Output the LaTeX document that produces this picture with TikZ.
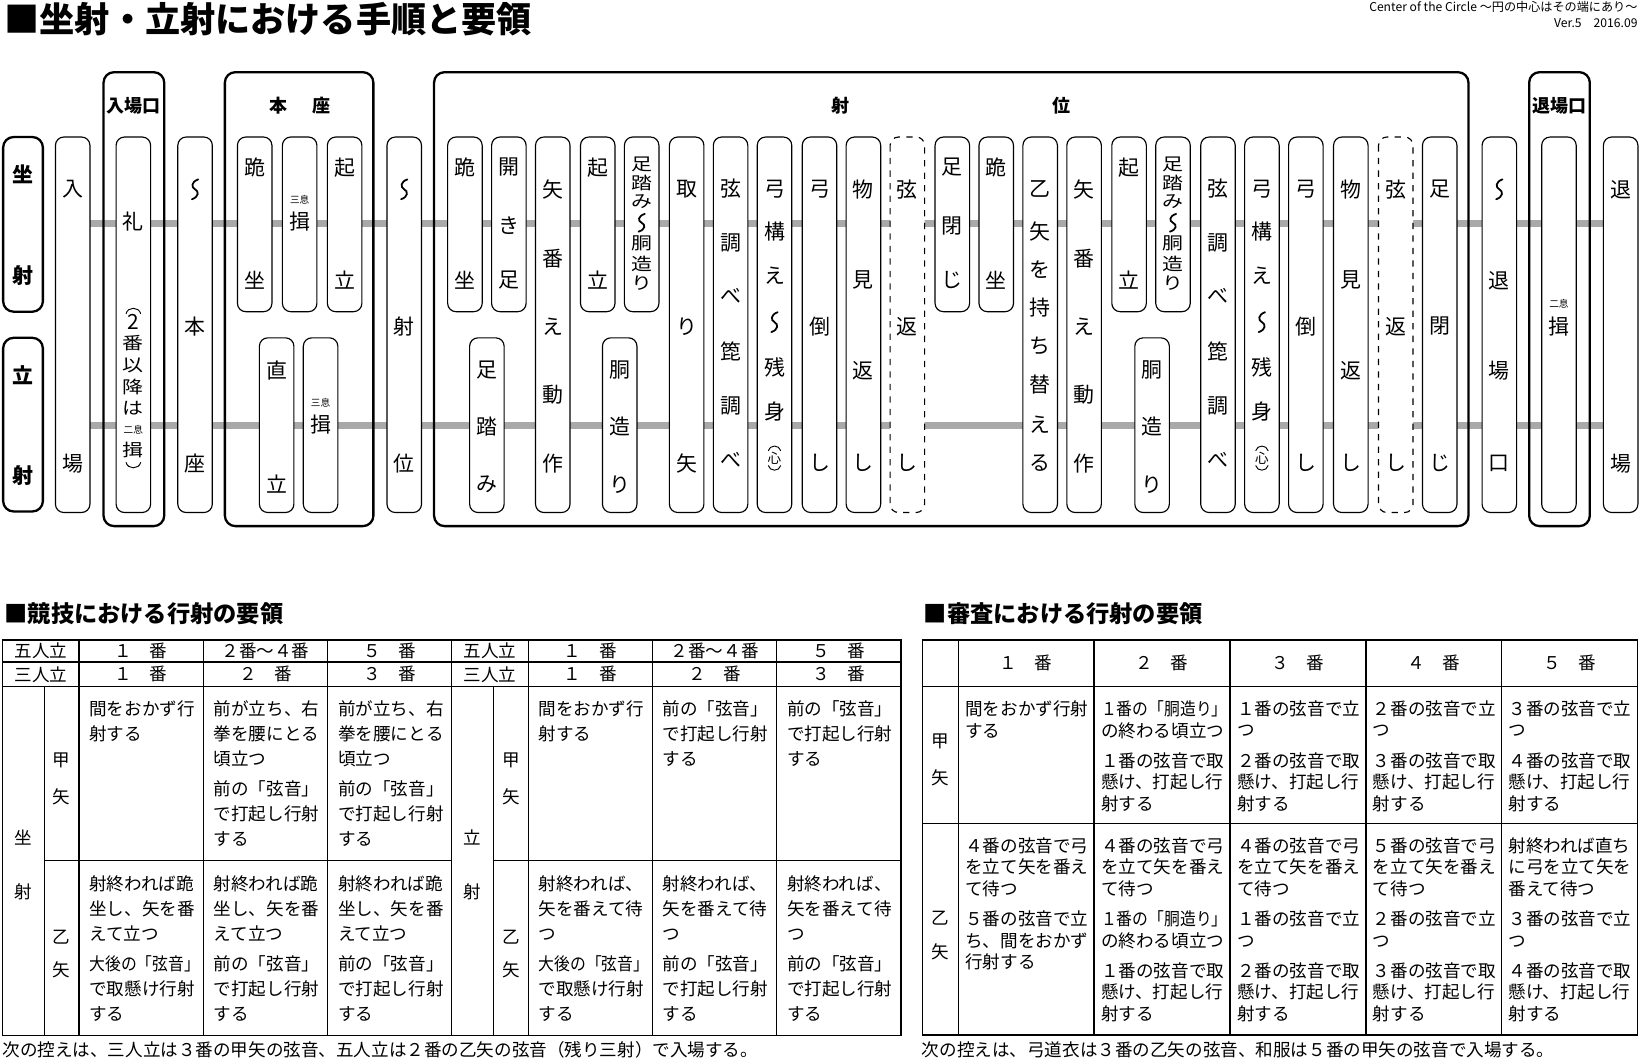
\documentclass[tikz,border=0pt]{standalone}
\usepackage{fontspec}
\setmainfont{Noto Sans CJK JP}
\usepackage{graphicx}
\definecolor{bandgray}{HTML}{A9A9A9}
\tikzset{
  colbox/.style={draw=black,line width=0.55pt,fill=white,rounded corners=4pt},
  grpbox/.style={draw=black,line width=1.1pt,rounded corners=5pt},
  lblbox/.style={draw=black,line width=1.1pt,rounded corners=5pt,fill=white},
  band/.style={draw=bandgray,line width=3.5pt},
  vch/.style={font=\fontsize{10}{10}\selectfont,inner sep=0pt},
  smallch/.style={font=\fontsize{4.6}{5}\selectfont,inner sep=0pt},
  grplbl/.style={font=\fontsize{8.6}{9}\selectfont\bfseries,inner sep=0pt},
  sidelbl/.style={font=\fontsize{10}{10}\selectfont\bfseries,inner sep=0pt},
  tbl/.style={draw=black,line width=0.6pt},
  tcellL/.style={font=\fontsize{8.4}{11.95}\selectfont,align=left,inner sep=0pt,anchor=north west},
  tcellR/.style={font=\fontsize{8.4}{10.35}\selectfont,align=left,inner sep=0pt,anchor=north west},
  thead/.style={font=\fontsize{8.4}{10}\selectfont,inner sep=0pt},
  paren/.style={line width=0.45pt},
  wavest/.style={line width=0.85pt,line cap=round},
  credit/.style={anchor=east,inner sep=0pt,font=\fontsize{5.8}{6}\selectfont},
}
\newcommand\wv[3]{\draw[wavest] (#1+3,#2-#3) .. controls (#1-3.8,#2-0.75*#3) and (#1-3.8,#2-0.2*#3) .. (#1,#2) .. controls (#1+3.8,#2+0.2*#3) and (#1+3.8,#2+0.75*#3) .. (#1-3,#2+#3);}
\newcommand\sqz[1]{\scalebox{1}[0.82]{#1}}
\newcommand\sq[1]{\scalebox{0.9}[1]{#1}}
\newcommand\vcol[4][]{\draw[colbox,#1] (#2,#3) rectangle (#2+33,#4);}
\newcommand\vtx[4][]{\foreach \yy/\ch [count=\k] in {#4} {\node[vch,#1] (#2-\k) at (#3,\yy) {\ch};}}
\newcommand\Kiza[2]{\vcol{#2}{131}{298}\vtx{#1}{#2+16.5}{160/跪,268/坐}}
\newcommand\Kiritsu[2]{\vcol{#2}{131}{298}\vtx{#1}{#2+16.5}{160/起,268/立}}
\newcommand\Yatsugae[2]{\vcol{#2}{131}{490}\vtx{#1}{#2+16.5}{181/矢,247/番,312/え,377/動,443/作}}
\newcommand\AshiDou[2]{\vcol{#2}{131}{298}\vtx{#1}{#2+16.5}{157/\sqz{足},175/\sqz{踏},193/\sqz{み},233/\sqz{胴},252/\sqz{造},271/\sqz{り}}\wv{#2+16.5}{213}{8.5}}
\newcommand\Dou[2]{\vcol{#2}{323}{490}\vtx{#1}{#2+16.5}{354/胴,408/造,463/り}}
\newcommand\Tsuru[2]{\vcol{#2}{131}{490}\vtx{#1}{#2+16.5}{180/弦,232/調,283/べ,336/箆,388/調,440/べ}}
\newcommand\Yugamae[2]{\vcol{#2}{131}{490}\vtx{#1}{#2+16.5}{181/弓,221/構,264/え,351/残,393/身}%
  \wv{#2+16.5}{308}{9.5}%
  \node[vch,font=\fontsize{6.5}{7}\selectfont] (#1-k) at (#2+16.5,438) {心};%
  \draw[paren] (#2+10.5,431) .. controls (#2+12,425) and (#2+21,425) .. (#2+22.5,431);%
  \draw[paren] (#2+10.5,445) .. controls (#2+12,451) and (#2+21,451) .. (#2+22.5,445);}
\newcommand\Yudaoshi[2]{\vcol{#2}{131}{490}\vtx{#1}{#2+16.5}{181/弓,312/倒,443/し}}
\newcommand\Monomi[2]{\vcol{#2}{131}{490}\vtx{#1}{#2+16.5}{181/物,268/見,354/返,443/し}}
\newcommand\Tsurugaeshi[2]{\vcol[dashed]{#2}{131}{490}\vtx{#1}{#2+16.5}{181/弦,312/返,443/し}}
\begin{document}
\begin{tikzpicture}[x=0.5pt,y=-0.5pt]
\useasboundingbox (0,0) rectangle (1568,1014);
\fill[white] (0,0) rectangle (1568,1014);
% ---------- titles
\node[anchor=west,inner sep=0pt,font=\fontsize{16.8}{17}\selectfont\bfseries] (title) at (4,18) {■坐射・立射における手順と要領};
\node[credit] (credittxt) at (1566,7) {Center of the Circle 〜円の中心はその端にあり〜};
\node[credit] (ver) at (1566,22) {Ver.5\quad 2016.09};
% ---------- bands
\coordinate (b1L) at (70,214); \coordinate (b1R) at (1549,214);
\coordinate (b2L) at (70,407); \coordinate (b2R) at (1549,407);
\draw[band] (b1L) -- (b1R);
\draw[band] (b2L) -- (b2R);
% ---------- side labels
\draw[lblbox] (3,131) rectangle (41,298);
\draw[lblbox] (3,323) rectangle (41,489);
\node[sidelbl] (sz1) at (22,167) {坐};
\node[sidelbl] (sz2) at (22,263) {射};
\node[sidelbl] (rs1) at (22,359) {立};
\node[sidelbl] (rs2) at (22,455) {射};
% ---------- groups
\draw[grpbox] (99,69) rectangle (157,503);
\draw[grpbox] (215,69) rectangle (357,503);
\draw[grpbox] (415,69) rectangle (1404,503);
\draw[grpbox] (1462,69) rectangle (1520,503);
\node[grplbl] (g1) at (128,101) {入場口};
\node[grplbl] (g2a) at (266,101) {本};
\node[grplbl] (g2b) at (307,101) {座};
\node[grplbl] (g3a) at (804,101) {射};
\node[grplbl] (g3b) at (1015,101) {位};
\node[grplbl] (g4) at (1491,101) {退場口};
% ---------- columns
\vcol{53}{131}{490}\vtx{A}{69.5}{181/入,443/場}
\vcol{111}{131}{490}\vtx{B}{127.5}{212/礼,308/2,328/\sqz{番},349/\sqz{以},370/\sqz{降},390/\sqz{は},430/\sqz{揖}}
\node[smallch] (B-s) at (127.5,411) {二息};
\draw[paren] (120.5,300) .. controls (122,293) and (133,293) .. (134.5,300);
\draw[paren] (120.5,442) .. controls (122,449) and (133,449) .. (134.5,442);
\vcol{170}{131}{490}\vtx{C}{186.5}{312/本,443/座}\wv{186.5}{181}{9.5}
\Kiza{D}{227}
\vcol{270}{131}{298}\vtx{E}{286.5}{212/揖}
\node[smallch] (E-s) at (286.5,191) {三息};
\Kiritsu{F}{313}
\vcol{248}{323}{490}\vtx{G}{264.5}{354/直,463/立}
\vcol{290}{323}{490}\vtx{H}{306.5}{406/揖}
\node[smallch] (H-s) at (306.5,385) {三息};
\vcol{370}{131}{490}\vtx{I}{386.5}{312/射,443/位}\wv{386.5}{181}{9.5}
\Kiza{J}{428}
\vcol{470}{131}{298}\vtx{K}{486.5}{160/開,216/き,268/足}
\vcol{449}{323}{490}\vtx{L}{465.5}{354/足,408/踏,463/み}
\Yatsugae{M}{512}
\Kiritsu{N}{555}
\AshiDou{O}{597}
\Dou{P}{576}
\vcol{640}{131}{490}\vtx{Q}{656.5}{181/取,312/り,443/矢}
\Tsuru{R}{682}
\Yugamae{S}{724}
\Yudaoshi{T}{767}
\Monomi{U}{809}
\Tsurugaeshi{V}{851}
\vcol{894}{131}{298}\vtx{W}{910.5}{160/足,216/閉,268/じ}
\Kiza{X}{936}
\vcol{978}{131}{490}\vtx{Y}{994.5}{181/乙,221/矢,258/を,294/持,331/ち,368/替,406/え,443/る}
\Yatsugae{Z}{1020}
\Kiritsu{AA}{1063}
\AshiDou{AB}{1105}
\Dou{AC}{1085}
\Tsuru{AD}{1148}
\Yugamae{AE}{1190}
\Yudaoshi{AF}{1232}
\Monomi{AG}{1275}
\Tsurugaeshi{AH}{1318}
\vcol{1360}{131}{490}\vtx{AI}{1376.5}{181/足,312/閉,443/じ}
\vcol{1417}{131}{490}\vtx{AJ}{1433.5}{268/退,354/場,443/口}\wv{1433.5}{181}{9.5}
\vcol{1474}{131}{490}\vtx{AK}{1490.5}{312/揖}
\node[smallch] (AK-s) at (1490.5,290) {二息};
\vcol{1533}{131}{490}\vtx{AL}{1549.5}{181/退,443/場}
% ---------- section titles
\node[anchor=west,inner sep=0pt,font=\fontsize{11.1}{12}\selectfont\bfseries] (t2) at (4,587) {■競技における行射の要領};
\node[anchor=west,inner sep=0pt,font=\fontsize{11.1}{12}\selectfont\bfseries] (t3) at (883,587) {■審査における行射の要領};
% ---------- left table
\draw[tbl] (2.5,612) rectangle (861.4,990);
\draw[tbl] (2.5,633) -- (861.4,633);
\draw[tbl] (2.5,656.5) -- (861.4,656.5);
\draw[tbl] (42.4,823) -- (431.5,823);
\draw[tbl] (471.6,823) -- (861.4,823);
\foreach \xx in {75.5,194.4,313.3,431.5,505,623.6,742.5} {\draw[tbl] (\xx,612) -- (\xx,990);}
\foreach \xx in {42.4,471.6} {\draw[tbl] (\xx,656.5) -- (\xx,990);}
\foreach \xo/\nm in {0/a,429.5/b} {
  \node[thead] (h1\nm0) at (39+\xo,622.5) {五人立};
  \node[thead] (h1\nm1) at (134.9+\xo,622.5) {１　番};
  \node[thead] (h1\nm2) at (253.8+\xo,622.5) {２番〜４番};
  \node[thead] (h1\nm3) at (372.4+\xo,622.5) {５　番};
  \node[thead] (h2\nm0) at (39+\xo,644.7) {三人立};
  \node[thead] (h2\nm1) at (134.9+\xo,644.7) {１　番};
  \node[thead] (h2\nm2) at (253.8+\xo,644.7) {２　番};
  \node[thead] (h2\nm3) at (372.4+\xo,644.7) {３　番};
  \node[thead] (k\nm1) at (59+\xo,726.6) {甲};
  \node[thead] (k\nm2) at (59+\xo,762) {矢};
  \node[thead] (o\nm1) at (59+\xo,895.8) {乙};
  \node[thead] (o\nm2) at (59+\xo,927.3) {矢};
}
\node[thead] (za1) at (22.5,801) {坐};
\node[thead] (za2) at (22.5,853) {射};
\node[thead] (ri1) at (451.7,801) {立};
\node[thead] (ri2) at (451.7,853) {射};
\node[tcellL] (L1) at (85.1,669.4) {間をおかず行\\射する};
\node[tcellL] (L2) at (204,669.4) {前が立ち、右\\拳を腰にとる\\頃立つ\\[2.4pt]前の「弦音」\\で打起し行射\\する};
\node[tcellL] (L3) at (322.9,669.4) {前が立ち、右\\拳を腰にとる\\頃立つ\\[2.4pt]前の「弦音」\\で打起し行射\\する};
\node[tcellL] (L4) at (85.1,836.8) {射終われば跪\\坐し、矢を番\\えて立つ\\[2.4pt]\sq{大後の「弦音」}\\で取懸け行射\\する};
\node[tcellL] (L5) at (204,836.8) {射終われば跪\\坐し、矢を番\\えて立つ\\[2.4pt]前の「弦音」\\で打起し行射\\する};
\node[tcellL] (L6) at (322.9,836.8) {射終われば跪\\坐し、矢を番\\えて立つ\\[2.4pt]前の「弦音」\\で打起し行射\\する};
\node[tcellL] (R1) at (514.6,669.4) {間をおかず行\\射する};
\node[tcellL] (R2) at (633.2,669.4) {前の「弦音」\\で打起し行射\\する};
\node[tcellL] (R3) at (752.1,669.4) {前の「弦音」\\で打起し行射\\する};
\node[tcellL] (R4) at (514.6,836.8) {射終われば、\\矢を番えて待\\つ\\[2.4pt]\sq{大後の「弦音」}\\で取懸け行射\\する};
\node[tcellL] (R5) at (633.2,836.8) {射終われば、\\矢を番えて待\\つ\\[2.4pt]前の「弦音」\\で打起し行射\\する};
\node[tcellL] (R6) at (752.1,836.8) {射終われば、\\矢を番えて待\\つ\\[2.4pt]前の「弦音」\\で打起し行射\\する};
\node[anchor=west,inner sep=0pt,font=\fontsize{8.4}{10}\selectfont] (n1) at (2,1004) {次の控えは、三人立は３番の甲矢の弦音、五人立は２番の乙矢の弦音（残り三射）で入場する。};
% ---------- right table
\draw[tbl] (881.7,611.8) rectangle (1565.6,989.5);
\draw[tbl] (881.7,656.5) -- (1565.6,656.5);
\draw[tbl] (881.7,787) -- (1565.6,787);
\foreach \xx in {916.1,1046,1176.1,1305.9,1435.4} {\draw[tbl] (\xx,611.8) -- (\xx,989.5);}
\foreach \cx/\lb [count=\i] in {981/１,1111/２,1241/３,1370.6/４,1500.5/５} {\node[thead] (sh\i) at (\cx,634) {\lb　番};}
\node[thead] (sk1) at (898.9,709) {甲};
\node[thead] (sk2) at (898.9,744) {矢};
\node[thead] (so1) at (898.9,877.6) {乙};
\node[thead] (so2) at (898.9,909.8) {矢};
\node[tcellR] (S1) at (922.5,669.4) {間をおかず行射\\する};
\node[tcellR] (S2) at (1052.4,669.4) {\sq{１番の「胴造り」}\\の終わる頃立つ\\[4pt]１番の弦音で取\\懸け、打起し行\\射する};
\node[tcellR] (S3) at (1182.5,669.4) {１番の弦音で立\\つ\\[4pt]２番の弦音で取\\懸け、打起し行\\射する};
\node[tcellR] (S4) at (1312.3,669.4) {２番の弦音で立\\つ\\[4pt]３番の弦音で取\\懸け、打起し行\\射する};
\node[tcellR] (S5) at (1441.8,669.4) {３番の弦音で立\\つ\\[4pt]４番の弦音で取\\懸け、打起し行\\射する};
\node[tcellR] (T1) at (922.5,800.2) {４番の弦音で弓\\を立て矢を番え\\て待つ\\[4pt]５番の弦音で立\\ち、間をおかず\\行射する};
\node[tcellR] (T2) at (1052.4,800.2) {４番の弦音で弓\\を立て矢を番え\\て待つ\\[4pt]\sq{１番の「胴造り」}\\の終わる頃立つ\\[4pt]１番の弦音で取\\懸け、打起し行\\射する};
\node[tcellR] (T3) at (1182.5,800.2) {４番の弦音で弓\\を立て矢を番え\\て待つ\\[4pt]１番の弦音で立\\つ\\[4pt]２番の弦音で取\\懸け、打起し行\\射する};
\node[tcellR] (T4) at (1312.3,800.2) {５番の弦音で弓\\を立て矢を番え\\て待つ\\[4pt]２番の弦音で立\\つ\\[4pt]３番の弦音で取\\懸け、打起し行\\射する};
\node[tcellR] (T5) at (1441.8,800.2) {射終われば直ち\\に弓を立て矢を\\番えて待つ\\[4pt]３番の弦音で立\\つ\\[4pt]４番の弦音で取\\懸け、打起し行\\射する};
\node[anchor=west,inner sep=0pt,font=\fontsize{8.4}{10}\selectfont] (n2) at (881,1004) {次の控えは、弓道衣は３番の乙矢の弦音、和服は５番の甲矢の弦音で入場する。};
\end{tikzpicture}
\end{document}
